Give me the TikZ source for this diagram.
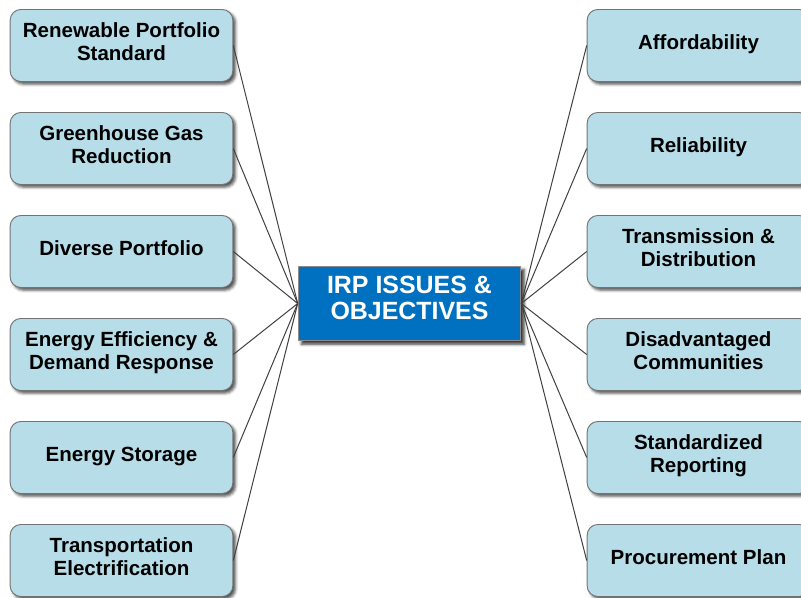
\documentclass[tikz,border=0pt]{standalone}
\usepackage{fontspec}
\setmainfont{Liberation Sans}
\usepackage{xcolor}
\usepackage{tikz}
\usetikzlibrary{shadows, shadows.blur}

\definecolor{topicblue}{HTML}{B7DDE8}
\definecolor{hubblue}{HTML}{0070C0}
\definecolor{linegray}{HTML}{404040}

% text sits a little above the middle of its box
\newcommand{\lift}[2][0.5pt]{\raisebox{#1}[\height][\depth]{\begin{tabular}{@{}c@{}}#2\end{tabular}}}

\begin{document}
\begin{tikzpicture}[x=0.75pt, y=-0.75pt,
  topic/.style={draw=black!55, line width=0.7pt, fill=topicblue, rounded corners=8pt,
    minimum width=167pt, minimum height=54pt,
    font=\fontsize{15.4}{17.3}\selectfont\bfseries,
    blur shadow={shadow xshift=2pt, shadow yshift=-2pt, shadow blur steps=4, shadow opacity=70}},
  hub/.style={draw=black!45, line width=0.7pt, fill=hubblue, text=white,
    minimum width=167pt, minimum height=56pt,
    font=\fontsize{18.7}{19.6}\selectfont\bfseries,
    blur shadow={shadow xshift=2.5pt, shadow yshift=-2.5pt, shadow blur steps=4, shadow opacity=80}},
  spoke/.style={draw=linegray, line width=0.75pt}]
  \useasboundingbox (0,0) rectangle (801,598);
  \clip (0,0) rectangle (801,598);

  % centre
  \node[hub] (irp) at (409.5,303.5) {\lift[1.6pt]{IRP ISSUES \&\\OBJECTIVES}};

  % left column
  \node[topic] (rps) at (121.5,45.5) {\lift{Renewable Portfolio\\Standard}};
  \node[topic] (ghg) at (121.5,148.5) {\lift{Greenhouse Gas\\Reduction}};
  \node[topic] (div) at (121.5,251.5) {\lift{Diverse Portfolio}};
  \node[topic] (eff) at (121.5,354.5) {\lift{Energy Efficiency \&\\Demand Response}};
  \node[topic] (sto) at (121.5,457.5) {\lift{Energy Storage}};
  \node[topic] (trn) at (121.5,560.5) {\lift{Transportation\\Electrification}};

  % right column
  \node[topic] (aff) at (698.5,45.5) {\lift{Affordability}};
  \node[topic] (rel) at (698.5,148.5) {\lift{Reliability}};
  \node[topic] (tnd) at (698.5,251.5) {\lift{Transmission \&\\Distribution}};
  \node[topic] (dac) at (698.5,354.5) {\lift{Disadvantaged\\Communities}};
  \node[topic] (rep) at (698.5,457.5) {\lift{Standardized\\Reporting}};
  \node[topic] (pro) at (698.5,560.5) {\lift{Procurement Plan}};

  % spokes
  \draw[spoke] (rps.east) -- (irp.west);
  \draw[spoke] (ghg.east) -- (irp.west);
  \draw[spoke] (div.east) -- (irp.west);
  \draw[spoke] (eff.east) -- (irp.west);
  \draw[spoke] (sto.east) -- (irp.west);
  \draw[spoke] (trn.east) -- (irp.west);
  \draw[spoke] (aff.west) -- (irp.east);
  \draw[spoke] (rel.west) -- (irp.east);
  \draw[spoke] (tnd.west) -- (irp.east);
  \draw[spoke] (dac.west) -- (irp.east);
  \draw[spoke] (rep.west) -- (irp.east);
  \draw[spoke] (pro.west) -- (irp.east);
\end{tikzpicture}
\end{document}
